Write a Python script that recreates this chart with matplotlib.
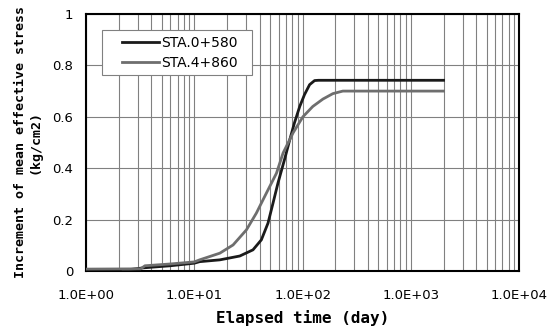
import numpy as np
import matplotlib.pyplot as plt
from matplotlib.ticker import LogLocator, FixedLocator, NullFormatter
from matplotlib.legend_handler import HandlerLine2D

# Datos (tiempo en dias, incremento en kg/cm2)
t_sta0 = [2.2, 3.4, 6, 10, 11.2, 17.2, 26.3, 34.8, 41.6, 47.9, 53.3, 59.2, 68, 76, 84, 94,
          104, 116, 129, 140, 2000]
v_sta0 = [0.002, 0.012, 0.02, 0.03, 0.036, 0.043, 0.058, 0.082, 0.121, 0.186, 0.264, 0.342,
          0.433, 0.51, 0.576, 0.64, 0.686, 0.725, 0.741, 0.742, 0.742]

t_sta4 = [1, 3.2, 3.5, 6, 10, 11.2, 17.2, 22.8, 30.3, 37.4, 46.3, 57.3, 66, 81.5, 100.6,
          124, 154, 190, 235, 2000]
v_sta4 = [0.007, 0.008, 0.02, 0.027, 0.035, 0.043, 0.069, 0.101, 0.16, 0.225, 0.303, 0.38,
          0.459, 0.537, 0.60, 0.64, 0.669, 0.69, 0.70, 0.70]

etiquetas = ["STA.0+580", "STA.4+860"]
x_ticks = [1, 10, 100, 1000, 10000]
x_labels = ["1.0E+00", "1.0E+01", "1.0E+02", "1.0E+03", "1.0E+04"]
y_ticks = [0, 0.2, 0.4, 0.6, 0.8, 1.0]
y_labels = ["0", "0.2", "0.4", "0.6", "0.8", "1"]

fig = plt.figure(figsize=(5.53, 3.26), dpi=100)
ax = fig.add_axes([0.1555, 0.169, 0.7835, 0.788])

ax.plot(t_sta0, v_sta0, color="#1a1a1a", lw=2.0, label=etiquetas[0], zorder=3)
ax.plot(t_sta4, v_sta4, color="#6e6e6e", lw=2.0, label=etiquetas[1], zorder=3)

ax.set_xscale("log")
ax.set_xlim(1, 10000)
ax.set_ylim(0, 1)
ax.xaxis.set_major_locator(FixedLocator(x_ticks))
ax.xaxis.set_minor_locator(LogLocator(base=10, subs=np.arange(2, 10)))
ax.xaxis.set_minor_formatter(NullFormatter())
ax.set_xticks(x_ticks, x_labels)
ax.set_yticks(y_ticks, y_labels)
ax.tick_params(which="both", length=0, labelsize=9.5)
ax.tick_params(axis="x", pad=13)
ax.tick_params(axis="y", pad=9)

ax.grid(True, which="major", color="#808080", lw=0.8)
ax.grid(True, which="minor", axis="x", color="#808080", lw=0.8)
for s in ax.spines.values():
    s.set_linewidth(1.5)
    s.set_color("black")

ax.set_xlabel("Elapsed time (day)", fontfamily="DejaVu Sans Mono", fontweight="bold",
              fontsize=11.5, labelpad=6)
ax.set_ylabel("Increment of mean effective stress\n(kg/cm2)", fontfamily="DejaVu Sans Mono",
              fontweight="bold", fontsize=9.5, labelpad=8, linespacing=1.1)

# caja de leyenda un poco mas ancha que su contenido, como en el original
leg = ax.legend(loc="upper left", bbox_to_anchor=(0.037, 0.0, 0.346, 0.938), mode="expand",
                borderaxespad=0, fancybox=False, edgecolor="#808080", framealpha=1,
                fontsize=10, handlelength=3.7, handletextpad=0.15, borderpad=0.4,
                labelspacing=0.45, handler_map={plt.Line2D: HandlerLine2D(xpad=1.05)})
leg.get_frame().set_linewidth(0.8)

fig.savefig("out.png", dpi=100)
